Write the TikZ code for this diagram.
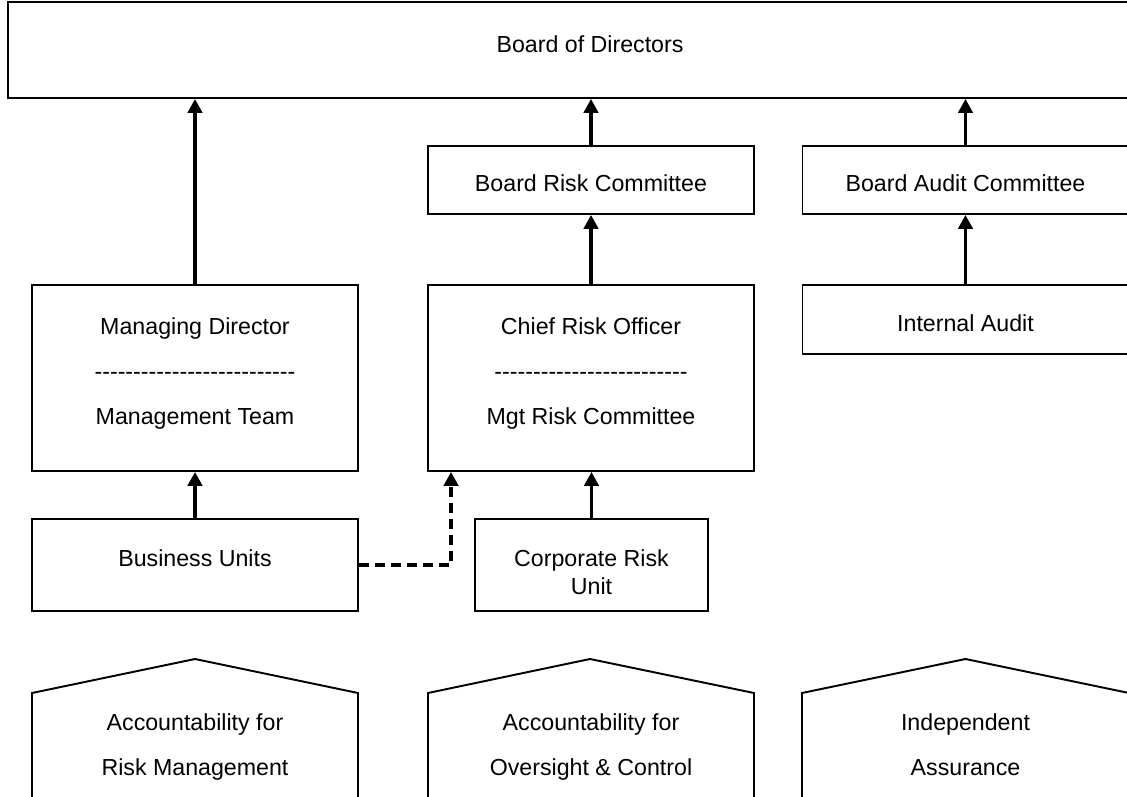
\documentclass[tikz,border=0pt]{standalone}
\usepackage{fontspec}
\setmainfont{Liberation Sans}
\usetikzlibrary{arrows.meta,positioning,calc}

% a row of plain hyphens (kerns keep them from joining into dashes)
\newcommand\dashrow[1]{\foreach \d in {1,...,#1}{-\kern0pt}}

\begin{document}
\begin{tikzpicture}[font=\fontsize{13.2}{25.6}\selectfont,
  unit/.style={draw, line width=1.1pt, align=center, minimum width=6.52cm, inner sep=2pt},
  flow/.style={-{Triangle[length=0.28cm, width=0.29cm]}, line width=1.8pt},
  link/.style={flow, dash pattern=on 0.2cm off 0.12cm},
  roof/.style={draw, line width=1.1pt},
  roofnote/.style={align=center, text depth=0.1cm},
]
  \useasboundingbox (0,0) rectangle (22.54,15.92);
  \clip (0,0) rectangle (22.54,15.92);

  \node[unit, minimum width=23.28cm, minimum height=1.92cm, text depth=0.24cm] (board) at (11.8,14.92) {Board of Directors};

  \node[unit, minimum height=1.36cm, text height=0.46cm] (brc) at (11.82,12.32) {Board Risk Committee};
  \node[unit, minimum height=1.36cm, text height=0.46cm] (bac) at (19.31,12.32) {Board Audit Committee};

  \node[unit, minimum height=3.72cm, text depth=0.26cm] (md) at (3.9,8.36)
        {Managing Director\\\dashrow{26}\\Management Team};
  \node[unit, minimum height=3.72cm, text depth=0.26cm] (cro) at (11.82,8.36)
        {Chief Risk Officer\\\dashrow{25}\\Mgt Risk Committee};
  \node[unit, minimum height=1.38cm, text height=0.5cm] (ia) at (19.31,9.53) {Internal Audit};

  \node[unit, minimum height=1.84cm, text depth=0.28cm] (bu) at (3.9,4.62) {Business Units};
  \node[unit, minimum width=4.66cm, minimum height=1.84cm, text height=1.18cm,
        font=\fontsize{13.2}{15.9}\selectfont] (cru) at (11.83,4.62) {Corporate Risk\\Unit};

  % reporting lines
  \draw[flow] (md.north) -- (md.north |- board.south);
  \draw[flow] (brc.north) -- (brc.north |- board.south);
  \draw[flow] (bac.north) -- (bac.north |- board.south);
  \draw[flow] (cro.north) -- (brc.south);
  \draw[flow] (ia.north) -- (bac.south);
  \draw[flow] (bu.north) -- (md.south);
  \draw[flow] (cru.north) -- (cru.north |- cro.south);

  \coordinate (croin) at ($(cro.south west)+(0.48,0)$);
  \draw[link] (bu.east) -| (croin);

  % the three lines of accountability
  \draw[roof] (0.64,-0.5) -- (0.64,2.06) -- (3.9,2.74) -- (7.16,2.06) -- (7.16,-0.5);
  \draw[roof] (8.56,-0.5) -- (8.56,2.06) -- (11.8,2.74) -- (15.08,2.06) -- (15.08,-0.5);
  \draw[roof] (16.04,-0.5) -- (16.04,2.06) -- (19.31,2.74) -- (22.58,2.06) -- (22.58,-0.5);

  \node[roofnote] (riskmgt) at (3.9,0.98) {Accountability for\\Risk Management};
  \node[roofnote] (oversight) at (11.82,0.98) {Accountability for\\Oversight \& Control};
  \node[roofnote] (assurance) at (19.31,0.98) {Independent\\Assurance};
\end{tikzpicture}
\end{document}
